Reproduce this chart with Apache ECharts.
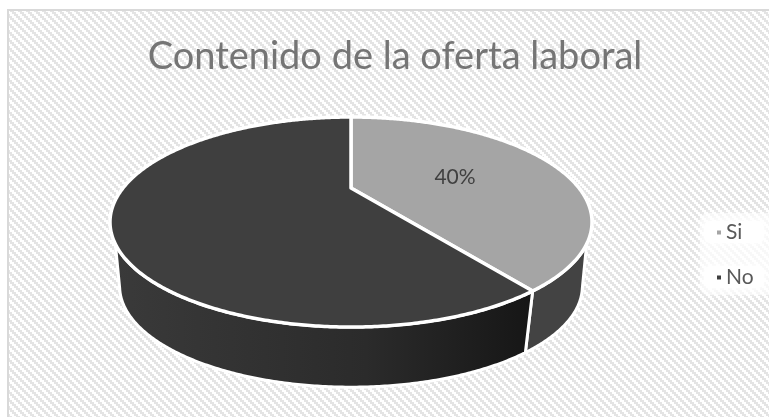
<!DOCTYPE html>
<html>
<head>
<meta charset="utf-8">
<style>html,body{margin:0;padding:0;background:#fff}#chart{width:769px;height:417px}</style>
<script src="https://cdn.jsdelivr.net/npm/echarts@6/dist/echarts.min.js"></script>
</head>
<body>
<div id="chart"></div>
<script>
const chartTitle = 'Contenido de la oferta laboral';
const categories = ['Si', 'No'];
const shares = [40, 60];
const topColors = ['#a5a5a5', '#3f3f3f'];

// Diagonal hatch tile used as the chart area fill
function hatchTile() {
  const c = document.createElement('canvas');
  c.width = c.height = 8;
  const g = c.getContext('2d');
  g.fillStyle = '#ffffff';
  g.fillRect(0, 0, 8, 8);
  g.fillStyle = '#e4e4e4';
  for (let y = 0; y < 8; y++) {
    for (let x = 0; x < 8; x++) {
      const d = (((x >> 1) - (y >> 1)) % 4 + 4) % 4;
      if (d < 2) g.fillRect(x, y, 1, 1);
    }
  }
  return c;
}

// Perspective disc: apex of the slices sits above the centre of the ellipse
const cx = 351, apexY = 188, radX = 228, radY = 94, persp = 0.324;
const vanishY = 1830, baseScale = 0.96;

function topPoint(deg) {
  const a = deg * Math.PI / 180;
  const u = Math.sin(a), v = Math.cos(a), w = 1 + persp * v;
  return [cx + radX * u / w, apexY - radY * v / w];
}
function basePoint(deg) {
  const p = topPoint(deg);
  return [cx + (p[0] - cx) * baseScale, vanishY + (p[1] - vanishY) * baseScale];
}
function arcPoints(fn, from, to) {
  const pts = [];
  const n = Math.max(2, Math.ceil(Math.abs(to - from) * 2));
  for (let i = 0; i <= n; i++) pts.push(fn(from + (to - from) * i / n));
  return pts;
}

const total = shares.reduce((a, b) => a + b, 0);
const startDeg = [];
shares.reduce((acc, v, i) => { startDeg[i] = acc; return acc + v / total * 360; }, 0);

// Visible front of the rim; the outline leaves the top edge later than the base edge
const rimTop = [120, 240], rimBase = [110, 250];

function wallShape(from, to, fill) {
  const topA = Math.max(from, rimTop[0]), topB = Math.min(to, rimTop[1]);
  const baseA = Math.max(from, rimBase[0]), baseB = Math.min(to, rimBase[1]);
  if (topB <= topA) return [];
  const pts = arcPoints(topPoint, topA, topB).concat(arcPoints(basePoint, baseA, baseB).reverse());
  return [{
    type: 'polygon',
    shape: { points: pts },
    style: { fill: fill, stroke: '#fff', lineWidth: 3, lineJoin: 'round' }
  }];
}

function renderSlice(index) {
  return function () {
    const from = startDeg[index];
    const to = from + shares[index] / total * 360;
    const fill = index === 0 ? '#434343' : {
      type: 'linear', x: 0, y: 0, x2: 1, y2: 0,
      colorStops: [
        { offset: 0, color: '#3a3a3a' },
        { offset: 0.6, color: '#2b2b2b' },
        { offset: 1, color: '#161616' }
      ]
    };
    const top = [[cx, apexY]].concat(arcPoints(topPoint, from, to));
    const children = wallShape(from, to, fill);
    children.push({
      type: 'polygon',
      z2: 5,
      shape: { points: top },
      style: { fill: topColors[index], stroke: '#fff', lineWidth: 3.5, lineJoin: 'round' }
    });
    if (index === 0) {
      children.push({
        type: 'text',
        z2: 6,
        style: {
          text: shares[index] + '%',
          x: 455, y: 177, align: 'center', verticalAlign: 'middle',
          fill: '#404040', font: '21px Lato'
        }
      });
    }
    return { type: 'group', children };
  };
}

const series = categories.map((name, i) => ({
  type: 'custom',
  name: name,
  coordinateSystem: 'none',
  z: i === 0 ? 2 : 3,
  color: topColors[i],
  data: [shares[i]],
  renderItem: renderSlice(i),
  silent: true
}));

const glow = { fill: 'rgba(255,255,255,0.9)', shadowBlur: 6, shadowColor: '#ffffff' };

const chart = echarts.init(document.getElementById('chart'), null, { renderer: 'canvas' });
chart.setOption({
  animation: false,
  backgroundColor: '#ffffff',
  title: {
    text: chartTitle,
    left: 390, top: 33, textAlign: 'center',
    textStyle: { fontFamily: 'Lato', fontWeight: 'normal', fontSize: 38, color: '#757575' }
  },
  legend: {
    orient: 'vertical',
    left: 712, top: 217,
    data: categories,
    icon: 'rect',
    itemWidth: 4, itemHeight: 4, itemGap: 24,
    selectedMode: false,
    textStyle: { fontFamily: 'Lato', fontSize: 21, color: '#595959', padding: [0, 0, 0, 0] }
  },
  graphic: [
    {
      type: 'rect', z: -10, silent: true,
      shape: { x: 8, y: 10, width: 780, height: 430 },
      style: { fill: { image: hatchTile(), repeat: 'repeat' }, stroke: '#d9d9d9', lineWidth: 2 }
    },
    {
      type: 'rect', z: -9, silent: true,
      shape: { x: 700, y: 213, width: 80, height: 82, r: 8 },
      style: { fill: 'rgba(255,255,255,0.55)', shadowBlur: 8, shadowColor: 'rgba(255,255,255,0.8)' }
    },
    {
      type: 'rect', z: -8, silent: true,
      shape: { x: 704, y: 221, width: 60, height: 22, r: 6 },
      style: glow
    },
    {
      type: 'rect', z: -8, silent: true,
      shape: { x: 704, y: 266, width: 60, height: 22, r: 6 },
      style: glow
    }
  ],
  series
});
</script>
</body>
</html>
